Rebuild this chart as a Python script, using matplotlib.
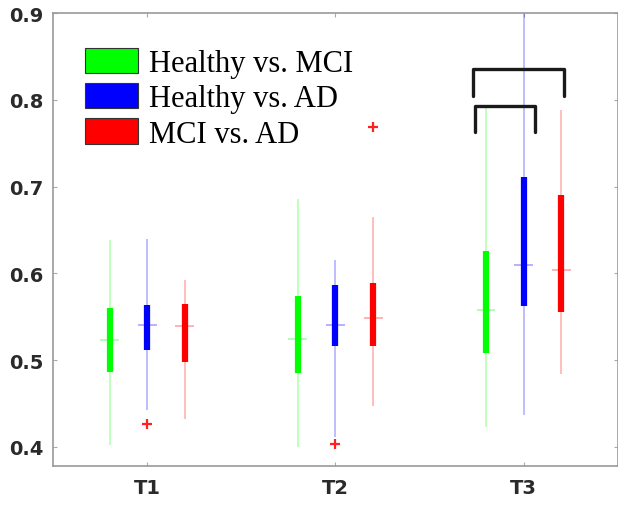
import matplotlib

matplotlib.use("Agg")
import matplotlib.pyplot as plt
import numpy as np
from matplotlib.patches import Patch

# groups on the x axis
groups = ["T1", "T2", "T3"]
series = ["Healthy vs. MCI", "Healthy vs. AD", "MCI vs. AD"]
colors = ["#00ff00", "#0000ff", "#ff0000"]

# box statistics per series, one value per group (T1, T2, T3)
whis_lo = [[0.402, 0.400, 0.423], [0.442, 0.411, 0.437], [0.432, 0.447, 0.484]]
q1 = [[0.486, 0.485, 0.508], [0.512, 0.516, 0.562], [0.498, 0.516, 0.555]]
med = [[0.523, 0.524, 0.558], [0.540, 0.541, 0.610], [0.539, 0.549, 0.604]]
q3 = [[0.560, 0.574, 0.626], [0.564, 0.587, 0.711], [0.565, 0.589, 0.690]]
whis_hi = [[0.638, 0.686, 0.793], [0.640, 0.615, 0.900], [0.592, 0.665, 0.788]]

# outliers (red '+'): x = group index + offset, y = value
outlier_x = [1.0, 2.0, 2.2]
outlier_y = [0.4265, 0.403, 0.769]

# significance brackets: (x_left, x_right, y_top, y_leg_bottom)
brackets = [(2.73, 3.215, 0.836, 0.805), (2.74, 3.06, 0.7925, 0.763)]

offsets = [-0.2, 0.0, 0.2]
pos = np.arange(1, len(groups) + 1)

fig = plt.figure(figsize=(6.18, 5.06), dpi=100)
ax = fig.add_axes([0.0858, 0.078, 0.914, 0.894])

for i, c in enumerate(colors):
    x = pos + offsets[i]
    ax.vlines(x, whis_lo[i], whis_hi[i], color=c, alpha=0.3, lw=1.2, zorder=2)
    ax.vlines(x, q1[i], q3[i], color=c, lw=4.5, zorder=3)
    ax.hlines(med[i], x - 0.05, x + 0.05, color=c, alpha=0.35, lw=1.2, zorder=4)

ax.plot(outlier_x, outlier_y, "+", color="#ff2020", ms=7, mew=1.6, zorder=4)

for x0, x1, yt, yb in brackets:
    ax.plot([x0, x0, x1, x1], [yb, yt, yt, yb], color="#1a1a1a", lw=2.4,
            solid_joinstyle="round", solid_capstyle="round", zorder=5)

ax.set_xlim(0.5, 3.5)
ax.set_ylim(0.3785, 0.9)
ax.set_xticks(pos)
ax.set_xticklabels(groups)
ax.set_yticks([0.4, 0.5, 0.6, 0.7, 0.8, 0.9])
ax.set_yticklabels(["0.4", "0.5", "0.6", "0.7", "0.8", "0.9"])
ax.tick_params(direction="in", length=3, width=0.8, colors="#aaaaaa",
               top=True, right=True, labelcolor="#2a2a2a")
ax.tick_params(axis="y", pad=7)
ax.tick_params(axis="x", pad=9)
for lab in ax.get_xticklabels() + ax.get_yticklabels():
    lab.set_fontfamily("DejaVu Sans")
    lab.set_fontweight("bold")
    lab.set_fontsize(14)

for side in ["left", "top", "bottom", "right"]:
    ax.spines[side].set_color("#999999")
    ax.spines[side].set_linewidth(1.2)

handles = [Patch(facecolor=c, edgecolor="#333333", lw=0.8) for c in colors]
ax.legend(handles, series, loc="upper left", bbox_to_anchor=(0.137, 0.904),
          bbox_transform=fig.transFigure, frameon=False, borderpad=0,
          borderaxespad=0, handlelength=1.73, handleheight=0.9,
          handletextpad=0.39, labelspacing=0.17,
          prop={"family": "Liberation Serif", "size": 22})

fig.savefig("out.png", dpi=100)
